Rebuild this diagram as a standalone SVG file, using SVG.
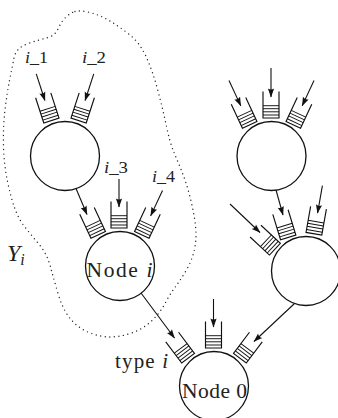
<svg xmlns="http://www.w3.org/2000/svg" xmlns:xlink="http://www.w3.org/1999/xlink" width="338" height="418" viewBox="0 0 338 418">
<style>
  .node { fill: #fff; stroke: #111; stroke-width: 1.3; }
  .qs { fill: none; stroke: #111; stroke-width: 1.15; }
  .qt { fill: none; stroke: #111; stroke-width: 0.95; }
  .arr { fill: none; stroke: #111; stroke-width: 1.1; marker-end: url(#ah); }
  .lbl { font-family: "Liberation Serif", "DejaVu Serif", serif; fill: #222; }
  .it { font-style: italic; }
  .region { fill: none; stroke: #222; stroke-width: 1.4; stroke-dasharray: 0 4.6; stroke-linecap: round; }
</style>
<defs>
  <marker id="ah" markerUnits="userSpaceOnUse" markerWidth="10" markerHeight="8" viewBox="-9 -4 10 8" refX="0" refY="0" orient="auto">
    <path d="M0.5,0 L-8.5,-3.1 Q-6.3,0 -8.5,3.1 Z" fill="#111"/>
  </marker>
  <g id="q">
    <path class="qs" d="M-8,-26.5 V0 H8 V-26.5"/>
    <path class="qt" d="M-8,-3 H8 M-8,-6.2 H8 M-8,-9.3 H8 M-8,-12.3 H8"/>
  </g>
</defs>

<g id="region-Yi">
  <path class="region" d="M75,11.5 Q80,10 90,12.5 Q100,15 110,21 Q120,27 130,35 Q140,43 146.5,57.5 Q153,72 158,91 Q163,110 166.5,126.5 Q170,143 174,152.5 Q178,162 182,172 Q186,182 189.5,195 Q193,208 195,221.5 Q197,235 195,246.5 Q193,258 187.5,268 Q182,278 176,286 Q170,294 165,303.5 Q160,313 151.5,321 Q143,329 131.5,333 Q120,337 110,337 Q100,337 89,332.5 Q78,328 70.5,319 Q63,310 58.5,295 Q54,280 50.5,267 Q47,254 40,245.5 Q33,237 26,228.5 Q19,220 15,209 Q11,198 7.5,181.5 Q4,165 3.5,146 Q3,127 5,110 Q7,93 9.5,80.5 Q12,68 14,58 Q16,48 27,44 Q38,40 46.5,38 Q55,36 58,29 Q61,22 65.5,17.5 Q70,13 75,11.5 Z"/>
  <text class="lbl" x="7" y="261" font-size="24"><tspan class="it">Y</tspan><tspan class="it" font-size="16" dy="4">i</tspan></text>
</g>

<g id="node-top-left">
  <circle class="node" cx="65" cy="156" r="34.5"/>
  <use xlink:href="#q" href="#q" transform="translate(51.4,120.5) rotate(-18)"/>
  <use xlink:href="#q" href="#q" transform="translate(78.6,120.5) rotate(18)"/>
</g>

<g id="node-i">
  <circle class="node" cx="120" cy="266" r="34.5"/>
  <use xlink:href="#q" href="#q" transform="translate(98.2,234.9) rotate(-25)"/>
  <use xlink:href="#q" href="#q" transform="translate(119,228)"/>
  <use xlink:href="#q" href="#q" transform="translate(141.8,234.9) rotate(25)"/>
  <text class="lbl" x="86.5" y="277" font-size="21.5" textLength="66" lengthAdjust="spacing">Node <tspan class="it">i</tspan></text>
</g>

<g id="node-top-right">
  <circle class="node" cx="271.5" cy="156" r="34.5"/>
  <use xlink:href="#q" href="#q" transform="translate(249.7,124.9) rotate(-25)"/>
  <use xlink:href="#q" href="#q" transform="translate(271,118)"/>
  <use xlink:href="#q" href="#q" transform="translate(293.3,124.9) rotate(25)"/>
</g>

<g id="node-right-mid">
  <circle class="node" cx="306" cy="271" r="34.5"/>
  <use xlink:href="#q" href="#q" transform="translate(274.9,249.2) rotate(-47)"/>
  <use xlink:href="#q" href="#q" transform="translate(288.2,237.4) rotate(-17)"/>
  <use xlink:href="#q" href="#q" transform="translate(313.9,233.8) rotate(10)"/>
</g>

<g id="node-0">
  <circle class="node" cx="214" cy="386" r="34.5"/>
  <use xlink:href="#q" href="#q" transform="translate(188.1,358.2) rotate(-37)"/>
  <use xlink:href="#q" href="#q" transform="translate(213.5,348)"/>
  <use xlink:href="#q" href="#q" transform="translate(239.9,358.2) rotate(37)"/>
  <text class="lbl" x="182" y="398" font-size="21.5" textLength="65" lengthAdjust="spacing">Node 0</text>
</g>

<g id="connectors">
  <line class="arr" x1="0" y1="-49" x2="0" y2="-21" transform="translate(51.4,120.5) rotate(-18)"/>
  <line class="arr" x1="0" y1="-49" x2="0" y2="-21" transform="translate(78.6,120.5) rotate(18)"/>
  <line class="arr" x1="76" y1="188.5" x2="87" y2="214.5"/>
  <line class="arr" x1="0" y1="-49" x2="0" y2="-21" transform="translate(119,228)"/>
  <line class="arr" x1="0" y1="-49" x2="0" y2="-21" transform="translate(141.8,234.9) rotate(25)"/>
  <line class="arr" x1="0" y1="-49" x2="0" y2="-21" transform="translate(249.7,124.9) rotate(-25)"/>
  <line class="arr" x1="0" y1="-50" x2="0" y2="-21" transform="translate(271,118)"/>
  <line class="arr" x1="0" y1="-49" x2="0" y2="-21" transform="translate(293.3,124.9) rotate(25)"/>
  <line class="arr" x1="230" y1="204" x2="260" y2="232.5"/>
  <line class="arr" x1="276" y1="190" x2="283" y2="215"/>
  <line class="arr" x1="0" y1="-49" x2="0" y2="-21" transform="translate(313.9,233.8) rotate(10)"/>
  <line class="arr" x1="141" y1="293" x2="174.5" y2="338"/>
  <line class="arr" x1="0" y1="-49" x2="0" y2="-21" transform="translate(213.5,348)"/>
  <line class="arr" x1="294.5" y1="303.5" x2="254" y2="341.5"/>
  <text class="lbl" x="25" y="63" font-size="17" textLength="23" lengthAdjust="spacingAndGlyphs"><tspan class="it">i</tspan>_1</text>
  <text class="lbl" x="82" y="63" font-size="17" textLength="24" lengthAdjust="spacingAndGlyphs"><tspan class="it">i</tspan>_2</text>
  <text class="lbl" x="104" y="173" font-size="17" textLength="24" lengthAdjust="spacingAndGlyphs"><tspan class="it">i</tspan>_3</text>
  <text class="lbl" x="152" y="181.5" font-size="17" textLength="23" lengthAdjust="spacingAndGlyphs"><tspan class="it">i</tspan>_4</text>
  <text class="lbl" x="115" y="368" font-size="21" textLength="53" lengthAdjust="spacing">type <tspan class="it">i</tspan></text>
</g>
</svg>
